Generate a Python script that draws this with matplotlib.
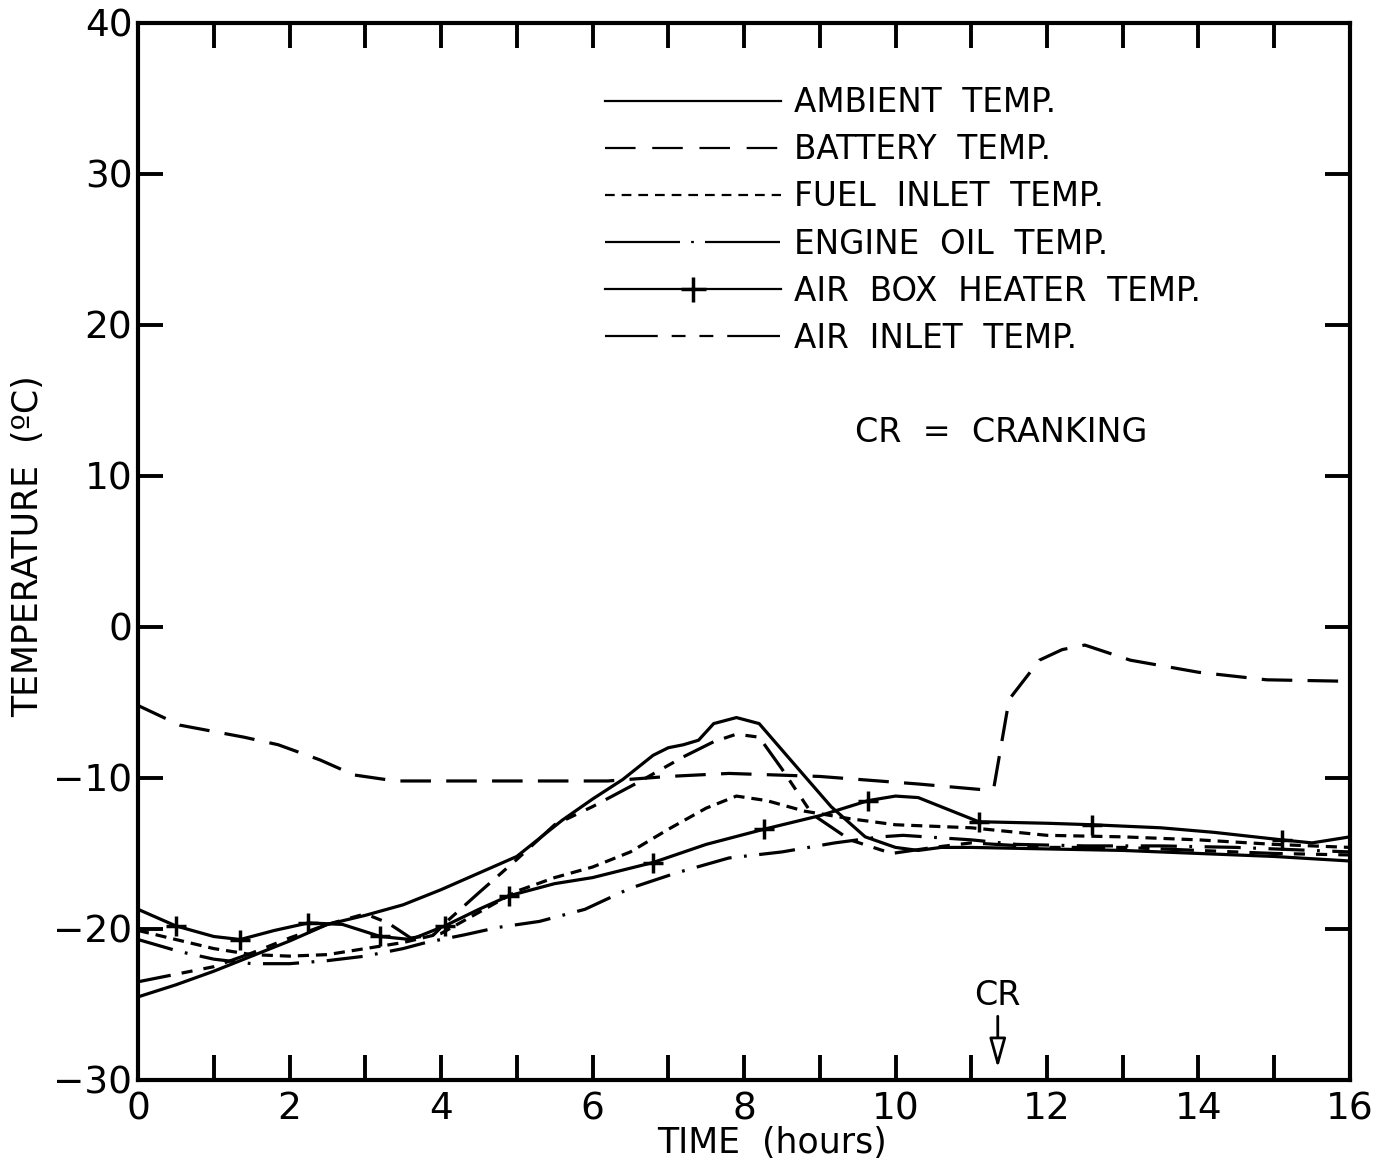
import numpy as np
import matplotlib
matplotlib.use('Agg')
import matplotlib.pyplot as plt
from matplotlib.lines import Line2D

plt.rcParams['font.family'] = ['DejaVu Sans']
plt.rcParams['lines.scale_dashes'] = False

# ambient (solid)
amb_t = [0, 0.5, 1, 1.5, 2, 2.5, 3, 3.5, 4, 4.5, 5, 5.6, 6, 6.4, 6.8, 7.0, 7.2, 7.4, 7.6, 7.9, 8.2, 8.7, 9.15, 9.6, 10, 10.3, 10.6, 11, 12, 13, 14, 15, 16]
amb_v = [-24.5, -23.7, -22.8, -21.8, -20.8, -19.7, -19.1, -18.4, -17.4, -16.3, -15.2, -12.8, -11.4, -10.1, -8.5, -8.0, -7.8, -7.5, -6.4, -6.0, -6.4, -9.3, -11.9, -13.9, -14.6, -14.8, -14.6, -14.6, -14.7, -14.8, -15.0, -15.2, -15.5]

# battery (long dash)
bat_t = [0, 0.55, 1.4, 1.85, 2.4, 2.85, 3.4, 4, 5, 6.2, 7, 7.8, 9, 10.3, 11.2, 11.3, 11.5, 11.9, 12.2, 12.5, 13.1, 14, 14.9, 16]
bat_v = [-5.2, -6.5, -7.3, -7.8, -8.8, -9.8, -10.2, -10.2, -10.2, -10.2, -9.9, -9.7, -9.9, -10.4, -10.8, -10.6, -4.8, -2.2, -1.5, -1.2, -2.2, -3.0, -3.5, -3.6]

# fuel inlet (short dash)
fuel_t = [0, 0.5, 1, 1.5, 2, 2.5, 3, 3.5, 4, 4.5, 5, 5.5, 6, 6.5, 7, 7.5, 7.9, 8.3, 8.8, 9.4, 10, 11, 12, 13, 14, 15, 16]
fuel_v = [-20.1, -20.7, -21.3, -21.7, -21.8, -21.7, -21.3, -20.9, -20.3, -18.9, -17.5, -16.6, -15.9, -14.9, -13.4, -12.0, -11.2, -11.5, -12.2, -12.7, -13.1, -13.3, -13.8, -13.9, -14.1, -14.4, -14.6]

# engine oil (dash-dot)
oil_t = [0, 0.55, 1, 1.5, 2, 2.5, 3, 3.5, 3.8, 4.3, 4.75, 5.3, 5.9, 6.5, 7.1, 7.8, 8.5, 9.2, 9.8, 10.1, 11, 11.6, 12.5, 13.5, 14.5, 15.5, 16]
oil_v = [-20.7, -21.5, -22.0, -22.3, -22.3, -22.1, -21.8, -21.3, -20.9, -20.4, -19.9, -19.5, -18.7, -17.3, -16.3, -15.3, -14.9, -14.3, -13.9, -13.8, -14.1, -14.4, -14.5, -14.5, -14.6, -14.8, -14.9]

# air box heater (solid with +)
box_t = [0, 0.5, 1.0, 1.35, 1.8, 2.25, 2.7, 3.2, 3.6, 4.05, 4.5, 4.9, 5.5, 6.0, 6.8, 7.5, 8.26, 9.0, 9.64, 10.0, 10.3, 10.9, 11.1, 12, 12.6, 13.5, 14.2, 15.1, 15.5, 16]
box_v = [-18.7, -19.8, -20.5, -20.7, -20.1, -19.6, -19.7, -20.5, -20.7, -19.8, -18.7, -17.8, -17.0, -16.6, -15.6, -14.4, -13.4, -12.5, -11.5, -11.2, -11.3, -12.5, -12.9, -13.0, -13.1, -13.3, -13.6, -14.1, -14.3, -13.9]
box_plus = [1, 3, 5, 7, 9, 11, 14, 16, 18, 22, 24, 27]

# air inlet (long-short-short dash)
inl_t = [0, 0.5, 1, 1.5, 2, 2.5, 3.0, 3.3, 3.6, 3.9, 4.1, 4.5, 5, 5.5, 6, 6.6, 7.2, 7.6, 7.9, 8.2, 8.5, 8.9, 9.4, 9.95, 10.5, 11, 12, 13, 14, 15, 16]
inl_v = [-23.5, -23.0, -22.5, -21.6, -20.6, -19.7, -19.0, -19.6, -20.6, -20.4, -19.4, -17.6, -15.4, -13.1, -11.9, -10.3, -8.6, -7.6, -7.1, -7.3, -9.4, -12.4, -14.1, -15.0, -14.6, -14.3, -14.6, -14.6, -14.8, -15.0, -15.1]

labels = ['AMBIENT  TEMP.', 'BATTERY  TEMP.', 'FUEL  INLET  TEMP.',
          'ENGINE  OIL  TEMP.', 'AIR  BOX  HEATER  TEMP.', 'AIR  INLET  TEMP.']
x_ticks = [0, 2, 4, 6, 8, 10, 12, 14, 16]
y_ticks = [-30, -20, -10, 0, 10, 20, 30, 40]
cr_time = 11.35

dash_bat = (0, (22, 11))
dash_fuel = (0, (8, 5))
dash_oil = (0, (26, 9, 2, 9))
dash_inl = (0, (24, 8, 8, 8, 8, 8))

fig = plt.figure(figsize=(13.76, 11.67), dpi=100)
ax = fig.add_axes([0.1003, 0.0746, 0.8808, 0.9057])

lw = 2.3
ax.plot(amb_t, amb_v, color='k', lw=lw, solid_joinstyle='round')
ax.plot(bat_t, bat_v, color='k', lw=lw, linestyle=dash_bat)
ax.plot(fuel_t, fuel_v, color='k', lw=lw, linestyle=dash_fuel)
ax.plot(oil_t, oil_v, color='k', lw=lw, linestyle=dash_oil)
ax.plot(box_t, box_v, color='k', lw=lw, marker='+', markersize=14, markeredgewidth=2.5, markevery=box_plus)
ax.plot(inl_t, inl_v, color='k', lw=lw, linestyle=dash_inl)

ax.set_xlim(0, 16)
ax.set_ylim(-30, 40)
ax.set_xticks(x_ticks)
ax.set_xticks(np.arange(0, 17, 1), minor=True)
ax.set_yticks(y_ticks)
ax.tick_params(axis='both', which='both', direction='in', top=True, right=True,
               length=18, width=2.8, labelsize=27, pad=8)
ax.tick_params(axis='y', pad=4)
for s in ax.spines.values():
    s.set_linewidth(3)

ax.set_xlabel('TIME  (hours)', fontsize=25)
ax.xaxis.set_label_coords(0.523, -0.044)
ax.set_ylabel('TEMPERATURE  (ºC)', fontsize=25)
ax.yaxis.set_label_coords(-0.077, 0.505)

# legend
handles = [
    Line2D([], [], color='k', lw=1.6),
    Line2D([], [], color='k', lw=1.6, linestyle=(0, (22, 12))),
    Line2D([], [], color='k', lw=1.6, linestyle=(0, (7, 5))),
    Line2D([], [], color='k', lw=1.6, linestyle=(0, (54, 8, 2, 8))),
    Line2D([], [], color='k', lw=1.6, marker='+', markersize=18, markeredgewidth=2.5),
    Line2D([], [], color='k', lw=1.6, linestyle=(0, (38, 10, 10, 10, 10, 10))),
]
ax.legend(handles, labels, loc='upper left', bbox_to_anchor=(0.385, 0.94),
          frameon=False, fontsize=23.5, handlelength=5.4, handletextpad=0.4,
          labelspacing=0.43, borderpad=0, borderaxespad=0, numpoints=1)

ax.text(11.4, 12.9, 'CR  =  CRANKING', fontsize=24, ha='center', va='center')

# cranking arrow
ax.annotate('', xy=(cr_time, -29.4), xytext=(cr_time, -25.6),
            arrowprops=dict(arrowstyle='-|>,head_length=1.8,head_width=0.5',
                            color='k', lw=2, fc='white'))
ax.text(cr_time, -24.4, 'CR', fontsize=24, ha='center', va='center')

fig.savefig('out.png', dpi=100)
